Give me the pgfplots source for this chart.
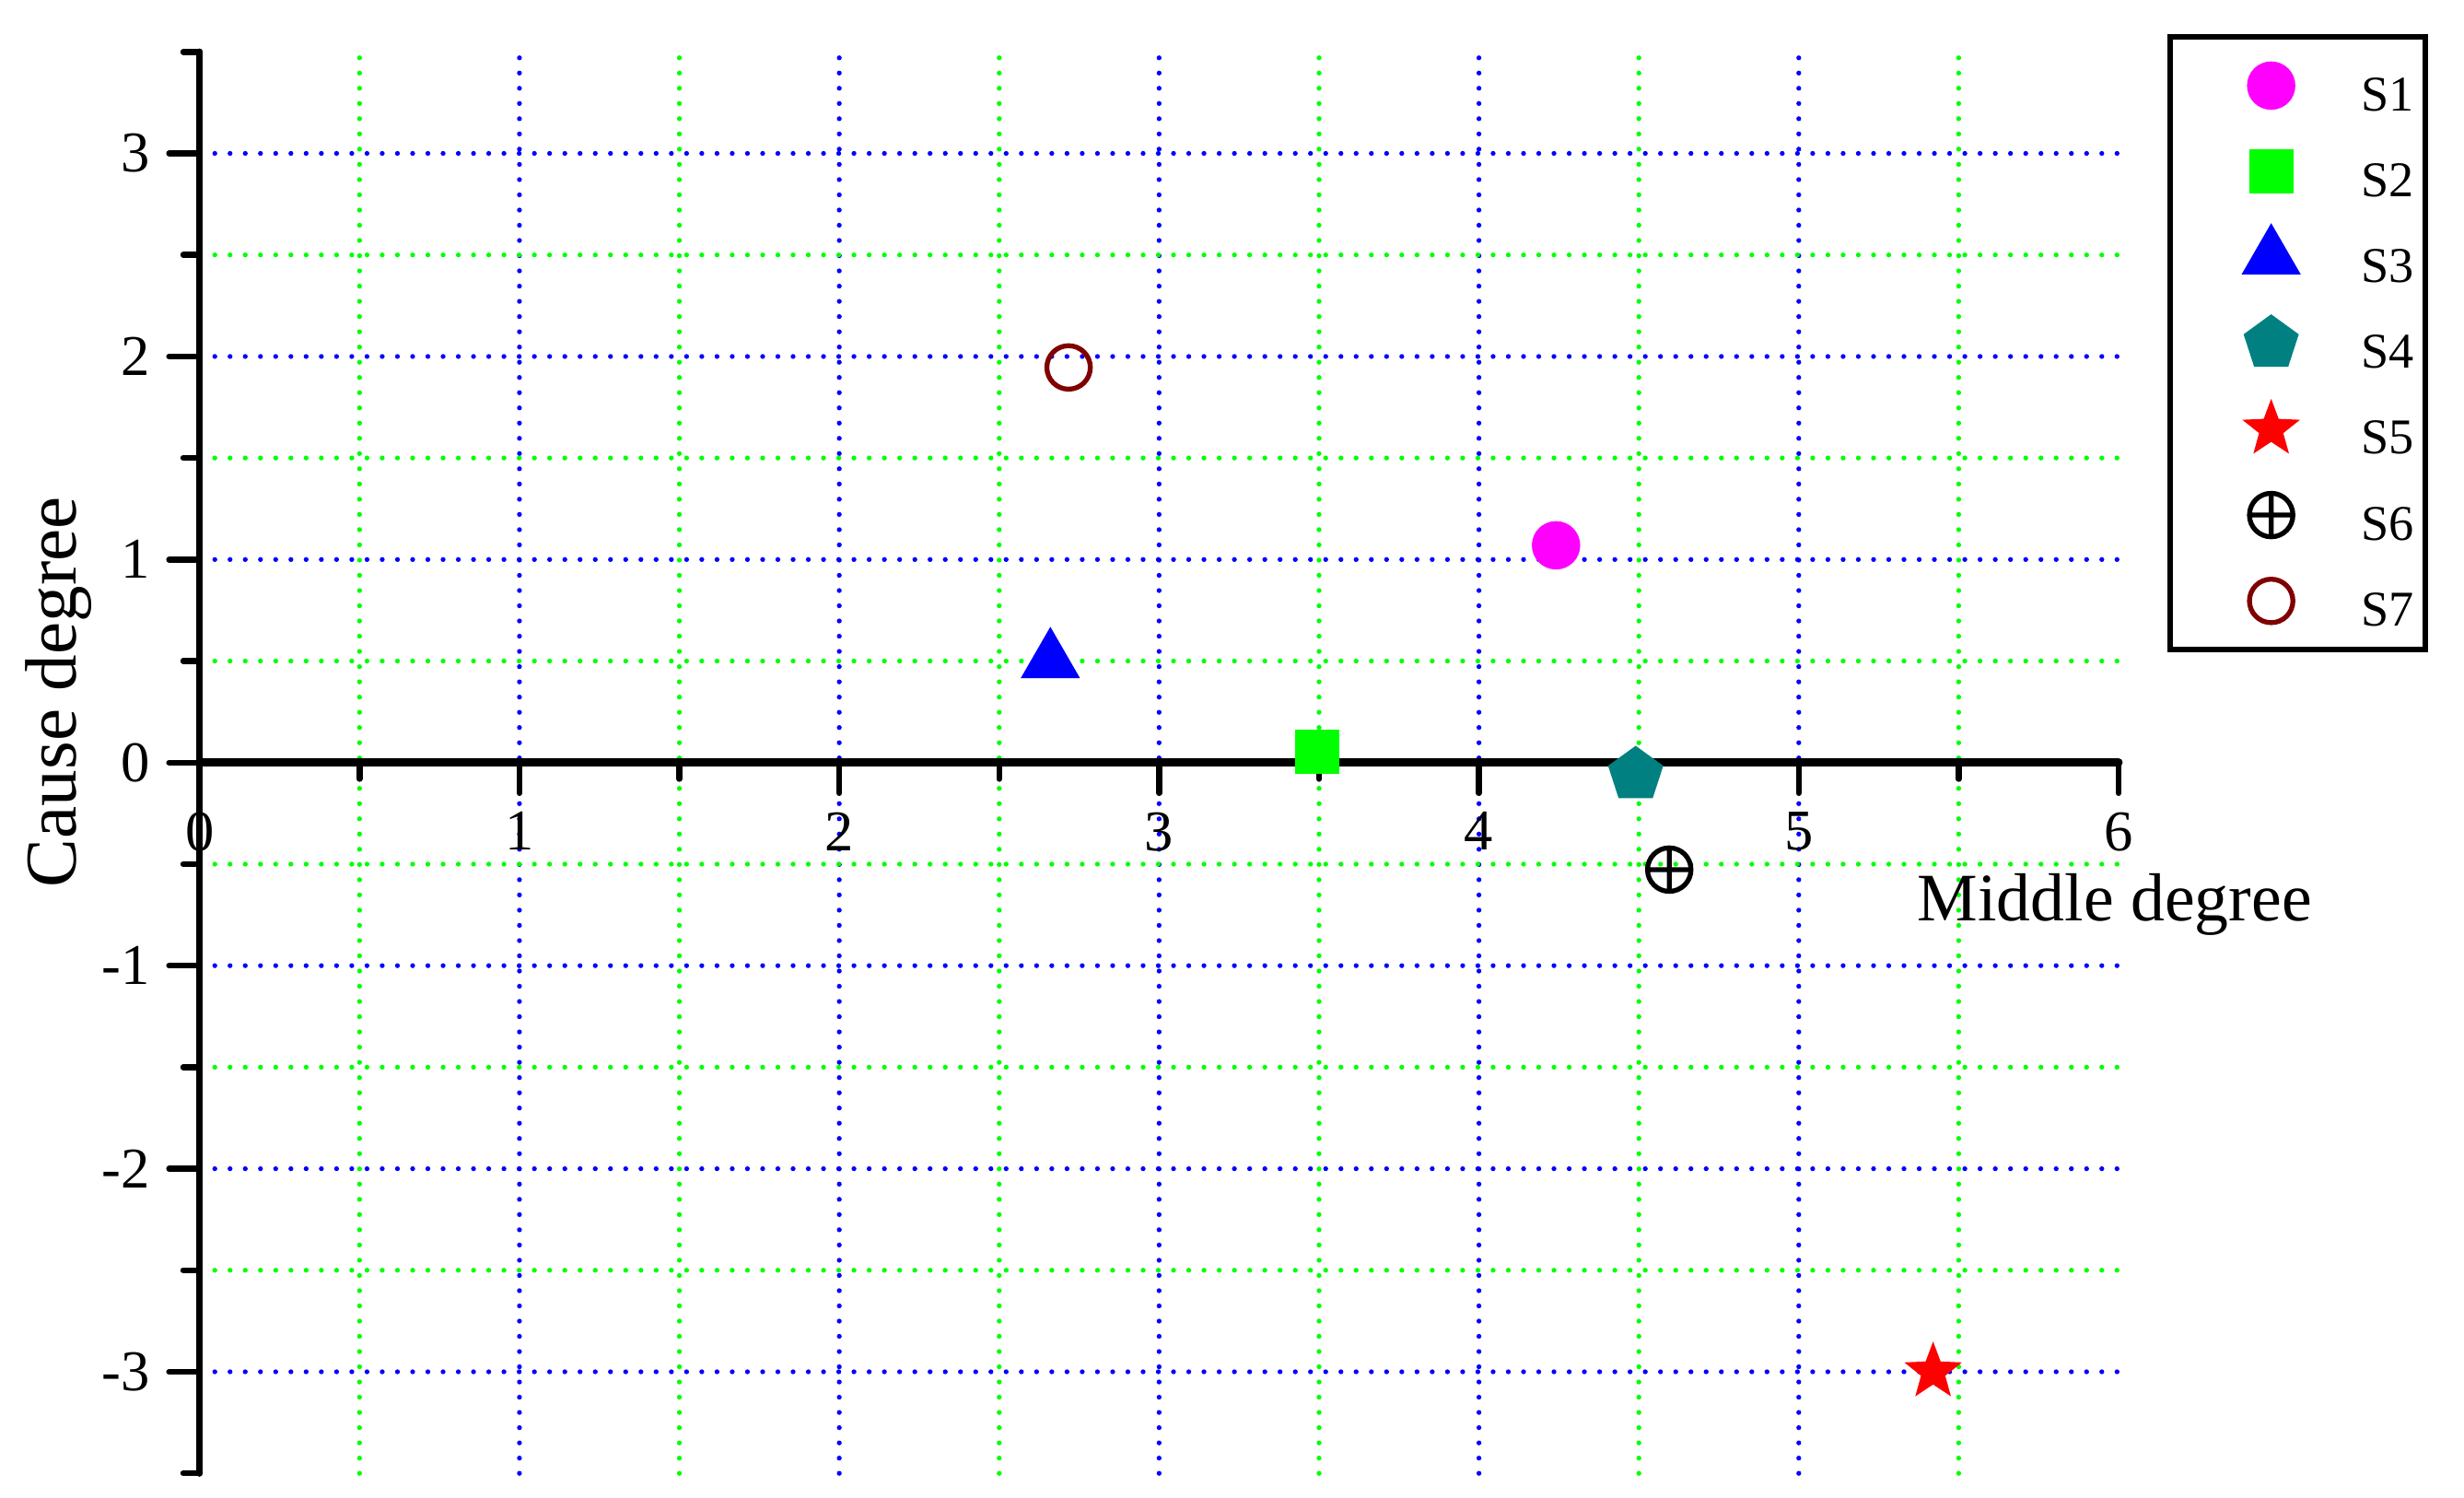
\documentclass[border=0pt]{standalone}
\usepackage{fontspec}
\setmainfont{Liberation Serif}
\usepackage{pgfplots}
\pgfplotsset{compat=1.18}
\definecolor{sOne}{RGB}{255,0,255}
\definecolor{sTwo}{RGB}{0,255,0}
\definecolor{sThree}{RGB}{0,0,255}
\definecolor{sFour}{RGB}{0,128,128}
\definecolor{sFive}{RGB}{255,0,0}
\definecolor{sSix}{RGB}{0,0,0}
\definecolor{sSeven}{RGB}{128,0,0}

% filled five-pointed star
\pgfdeclareplotmark{fstar}{%
  \pgfpathmoveto{\pgfqpointpolar{90}{\pgfplotmarksize}}%
  \pgfpathlineto{\pgfqpointpolar{126}{0.42\pgfplotmarksize}}%
  \pgfpathlineto{\pgfqpointpolar{162}{\pgfplotmarksize}}%
  \pgfpathlineto{\pgfqpointpolar{198}{0.42\pgfplotmarksize}}%
  \pgfpathlineto{\pgfqpointpolar{234}{\pgfplotmarksize}}%
  \pgfpathlineto{\pgfqpointpolar{270}{0.42\pgfplotmarksize}}%
  \pgfpathlineto{\pgfqpointpolar{306}{\pgfplotmarksize}}%
  \pgfpathlineto{\pgfqpointpolar{342}{0.42\pgfplotmarksize}}%
  \pgfpathlineto{\pgfqpointpolar{18}{\pgfplotmarksize}}%
  \pgfpathlineto{\pgfqpointpolar{54}{0.42\pgfplotmarksize}}%
  \pgfpathclose\pgfusepathqfillstroke}

\pgfplotsset{sm/.style={only marks,
  legend image code/.code={\path (0pt,-1pt) (32.2pt,1pt);
    \draw[mark repeat=2,mark phase=2] plot coordinates {(0pt,0pt)(16.1pt,0pt)(32.2pt,0pt)};}}}

\begin{document}
\begin{tikzpicture}
\begin{axis}[
  scale only axis, width=353.1pt, height=261.5pt,
  xmin=0, xmax=6, ymin=-3.5, ymax=3.5,
  axis lines=middle, clip=false,
  axis line style={-, line cap=round},
  x axis line style={line width=1.5pt},
  y axis line style={line width=1.25pt},
  every tick/.style={black, line width=1.1pt, line cap=round},
  tick align=outside,
  major tick length=5.6pt, minor tick length=3pt,
  xtick={0,1,2,3,4,5}, xticklabels={0,1,2,3,4,5},
  extra x ticks={6}, extra x tick labels={6}, extra x tick style={grid=none},
  minor xtick={0.5,1.5,2.5,3.5,4.5,5.5},
  ytick={-3,-2,-1,0,1,2,3}, yticklabels={-3,-2,-1,0,1,2,3},
  minor ytick={-2.5,-1.5,-0.5,0.5,1.5,2.5},
  extra y ticks={-3.5,3.5}, extra y tick labels={},
  extra y tick style={grid=none, major tick length=3pt},
  hide obscured x ticks=false, hide obscured y ticks=false,
  grid=both,
  major grid style={sThree, line width=0.9pt, dash pattern=on 0pt off 2.8pt, line cap=round},
  minor grid style={sTwo, line width=0.9pt, dash pattern=on 0pt off 2.8pt, line cap=round},
  ticklabel style={font=\fontsize{10.6}{12}\selectfont},
  xlabel={Middle degree},
  xlabel style={at={(rel axis cs:0.998,0.3888)}, anchor=base, font=\fontsize{12.5}{14}\selectfont},
  ylabel={Cause degree},
  ylabel style={at={(rel axis cs:-0.0642,0.5496)}, rotate=90, anchor=base, font=\fontsize{13.4}{16}\selectfont},
  legend cell align=left,
  legend style={at={(rel axis cs:1.0254,1.0122)}, anchor=north west, draw=black, line width=1pt,
    inner xsep=2pt, inner ysep=1pt, row sep=0pt, font=\fontsize{9.2}{10}\selectfont,
    nodes={inner sep=0pt, text height=12.5pt, text depth=3.3pt},
    /tikz/every even column/.append style={column sep=2.1pt}},
]
\addplot[sm, mark=*, mark size=4.3pt, color=sOne, mark options={line width=0.3pt}] coordinates {(4.241,1.07)};
\addlegendentry{S1}
\addplot[sm, mark=square*, mark size=3.9pt, color=sTwo, mark options={line width=0.3pt}] coordinates {(3.494,0.054)};
\addlegendentry{S2}
\addplot[sm, mark=triangle*, mark size=6pt, color=sThree, mark options={line width=0.3pt}] coordinates {(2.66,0.5)};
\addlegendentry{S3}
\addplot[sm, mark=pentagon*, mark size=5.15pt, color=sFour, mark options={line width=0.3pt}] coordinates {(4.49,-0.06)};
\addlegendentry{S4}
\addplot[sm, mark=fstar, mark size=5.15pt, color=sFive, mark options={line width=0.3pt}] coordinates {(5.42,-3.0)};
\addlegendentry{S5}
\addplot[sm, mark=oplus, mark size=4pt, color=sSix, mark options={line width=0.9pt}] coordinates {(4.595,-0.527)};
\addlegendentry{S6}
\addplot[sm, mark=o, mark size=4pt, color=sSeven, mark options={line width=0.9pt}] coordinates {(2.717,1.946)};
\addlegendentry{S7}
\coordinate (bbA) at (rel axis cs:-0.10402,-0.01719);
\coordinate (bbB) at (rel axis cs:1.18,1.03651);
\end{axis}
\pgfresetboundingbox
\path (bbA) rectangle (bbB);
\end{tikzpicture}
\end{document}
